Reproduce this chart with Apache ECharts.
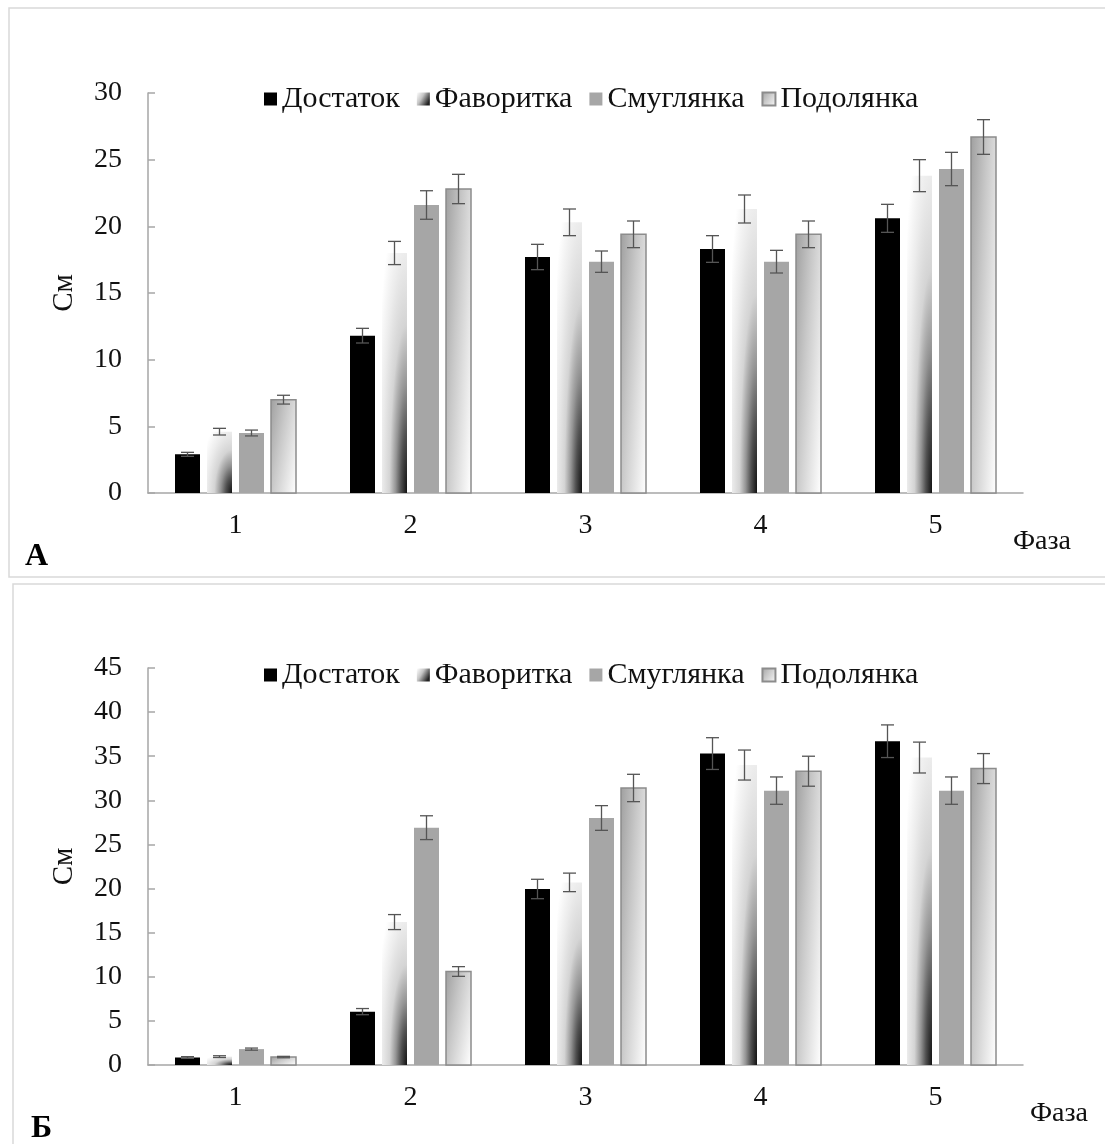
<!DOCTYPE html>
<html>
<head>
<meta charset="utf-8">
<script src="https://cdn.jsdelivr.net/npm/echarts@6/dist/echarts.min.js"></script>
<style>
  html, body { margin: 0; padding: 0; background: #ffffff; }
  #chart { width: 1105px; height: 1144px; }
</style>
</head>
<body>
<div id="chart"></div>
<script>
// Phases of development (x categories) and varieties (series)
const phases = ['1', '2', '3', '4', '5'];
const varieties = ['Достаток', 'Фаворитка', 'Смуглянка', 'Подолянка'];

// Panel А: mean values, cm
const dostatokA  = [2.9, 11.8, 17.7, 18.3, 20.6];
const favoritkaA = [4.6, 18.0, 20.3, 21.3, 23.8];
const smuglyankaA = [4.5, 21.6, 17.35, 17.35, 24.3];
const podolyankaA = [7.0, 22.8, 19.4, 19.4, 26.7];
// Panel А: error half-widths
const dostatokErrA  = [0.15, 0.55, 0.95, 1.0, 1.05];
const favoritkaErrA = [0.25, 0.87, 1.0, 1.05, 1.2];
const smuglyankaErrA = [0.22, 1.07, 0.8, 0.85, 1.25];
const podolyankaErrA = [0.33, 1.1, 1.0, 1.0, 1.3];

// Panel Б: mean values, cm
const dostatokB  = [0.85, 6.05, 19.95, 35.3, 36.7];
const favoritkaB = [0.95, 16.2, 20.7, 34.0, 34.85];
const smuglyankaB = [1.8, 26.9, 28.0, 31.1, 31.1];
const podolyankaB = [0.9, 10.6, 31.4, 33.3, 33.6];
// Panel Б: error half-widths
const dostatokErrB  = [0.1, 0.35, 1.1, 1.8, 1.85];
const favoritkaErrB = [0.1, 0.85, 1.05, 1.7, 1.75];
const smuglyankaErrB = [0.12, 1.35, 1.4, 1.55, 1.55];
const podolyankaErrB = [0.08, 0.55, 1.55, 1.7, 1.7];

// Axis ranges
const yMaxA = 30;
const yMaxB = 45;
const yStep = 5;

const FONT = '"Liberation Serif", "Times New Roman", serif';
const TEXT = '#111111';
const AXIS = '#a6a6a6';
const ERR = '#555555';

// Фаворитка: elliptical shading from the bottom-right corner of each bar
const favoritkaFill = {
  type: 'radial', x: 1, y: 1, r: 1.3,
  colorStops: [
    { offset: 0, color: '#111111' },
    { offset: 0.19, color: '#505050' },
    { offset: 0.35, color: '#959595' },
    { offset: 0.54, color: '#d4d4d4' },
    { offset: 0.77, color: '#ececec' },
    { offset: 1, color: '#ffffff' }
  ]
};
// Подолянка: grey upper-left fading to white lower-right
const podolyankaStops = [
  { offset: 0, color: '#a0a0a0' },
  { offset: 0.4, color: '#c8c8c8' },
  { offset: 1, color: '#ffffff' }
];
const PODO_WX = 0.6;
const PODO_WY = 0.4;
const PODO_EDGE = '#8c8c8c';

// Linear gradient in pixel space whose parameter equals wx*dx/w + wy*dy/h
function boxGradient(x, y, w, h, wx, wy, stops) {
  const nx = wx / Math.max(w, 0.5);
  const ny = wy / Math.max(h, 0.5);
  const n2 = nx * nx + ny * ny;
  return {
    type: 'linear', global: true,
    x: x, y: y, x2: x + nx / n2, y2: y + ny / n2,
    colorStops: stops
  };
}

function barElement(k, x, y, w, h) {
  if (k === 0) {
    return { type: 'rect', shape: { x: x, y: y, width: w, height: h }, style: { fill: '#000000' } };
  }
  if (k === 1) {
    // unit box stretched to the bar, so the radial ramp follows the bar's proportions
    return {
      type: 'rect',
      x: x, y: y,
      scaleX: w / 100, scaleY: Math.max(h, 0.01) / 100,
      shape: { x: 0, y: 0, width: 100, height: 100 },
      style: { fill: favoritkaFill }
    };
  }
  if (k === 2) {
    return { type: 'rect', shape: { x: x, y: y, width: w, height: h }, style: { fill: '#a6a6a6' } };
  }
  return {
    type: 'rect',
    shape: { x: x, y: y, width: w, height: h },
    style: {
      fill: boxGradient(x, y, w, h, PODO_WX, PODO_WY, podolyankaStops),
      stroke: PODO_EDGE, lineWidth: 1.5
    }
  };
}

function makeRenderer(k) {
  return function (params, api) {
    const cat = api.value(0);
    const val = api.value(1);
    const err = api.value(2);
    const base = api.coord([cat, 0]);
    const top = api.coord([cat, val]);
    const band = api.size([1, 0])[0];
    const bw = band / 7;
    const pitch = band * 32 / 175;
    const cx = base[0] + (k - 1.5) * pitch;
    const x = cx - bw / 2;
    const y = top[1];
    const h = base[1] - top[1];
    const hi = api.coord([cat, val + err])[1];
    const lo = api.coord([cat, val - err])[1];
    const cap = 6.5;
    const lineStyle = { stroke: ERR, lineWidth: 1.3 };
    return {
      type: 'group',
      children: [
        barElement(k, x, y, bw, h),
        { type: 'line', shape: { x1: cx, y1: hi, x2: cx, y2: lo }, style: lineStyle },
        { type: 'line', shape: { x1: cx - cap, y1: hi, x2: cx + cap, y2: hi }, style: lineStyle },
        { type: 'line', shape: { x1: cx - cap, y1: lo, x2: cx + cap, y2: lo }, style: lineStyle }
      ]
    };
  };
}

// Legend swatch styles
const swatches = [
  { color: '#000000' },
  {
    color: {
      type: 'linear', x: 0, y: 0, x2: 1, y2: 0.6,
      colorStops: [
        { offset: 0, color: '#ffffff' },
        { offset: 0.45, color: '#c4c4c4' },
        { offset: 1, color: '#222222' }
      ]
    }
  },
  { color: '#a6a6a6' },
  {
    color: { type: 'linear', x: 0, y: 0, x2: PODO_WX * 2, y2: PODO_WY * 2, colorStops: podolyankaStops },
    borderColor: PODO_EDGE, borderWidth: 1
  }
];

function buildSeries(panel, valueSets, errorSets) {
  return valueSets.map(function (vals, k) {
    return {
      type: 'custom',
      name: varieties[k],
      xAxisIndex: panel,
      yAxisIndex: panel,
      encode: { x: 0, y: 1 },
      itemStyle: swatches[k],
      renderItem: makeRenderer(k),
      data: phases.map(function (p, i) { return [i, vals[i], errorSets[k][i]]; })
    };
  });
}

function xAxisFor(panel, nameGap) {
  return {
    type: 'category',
    gridIndex: panel,
    data: phases,
    axisLine: { lineStyle: { color: AXIS, width: 1.5 } },
    axisTick: { show: false },
    axisLabel: { fontFamily: FONT, fontSize: 28, color: TEXT, margin: 19 },
    name: 'Фаза',
    nameLocation: 'end',
    nameGap: nameGap,
    nameTextStyle: {
      fontFamily: FONT, fontSize: 28, color: TEXT,
      align: 'left', verticalAlign: 'top', padding: [35, 0, 0, 0]
    }
  };
}

function yAxisFor(panel, max) {
  return {
    type: 'value',
    gridIndex: panel,
    min: 0,
    max: max,
    interval: yStep,
    axisLine: { show: true, lineStyle: { color: AXIS, width: 1.5 } },
    axisTick: { show: true, inside: true, length: 7, lineStyle: { color: AXIS, width: 1.5 } },
    splitLine: { show: false },
    axisLabel: { fontFamily: FONT, fontSize: 28, color: TEXT, margin: 26 },
    name: 'См',
    nameLocation: 'middle',
    nameRotate: 90,
    nameGap: 69,
    nameTextStyle: { fontFamily: FONT, fontSize: 29, color: TEXT }
  };
}

function legendAt(top) {
  return {
    left: 259,
    top: top,
    data: varieties,
    icon: 'rect',
    itemWidth: 13,
    itemHeight: 13,
    itemGap: 17,
    selectedMode: false,
    textStyle: { fontFamily: FONT, fontSize: 30, color: TEXT, lineHeight: 30 }
  };
}

const chart = echarts.init(document.getElementById('chart'), null, { renderer: 'canvas' });

chart.setOption({
  animation: false,
  backgroundColor: '#ffffff',
  legend: [legendAt(79), legendAt(655)],
  grid: [
    { left: 148, right: 82, top: 93, bottom: 651, outerBoundsMode: 'none' },
    { left: 148, right: 82, top: 668, bottom: 79, outerBoundsMode: 'none' }
  ],
  xAxis: [xAxisFor(0, -10), xAxisFor(1, 7)],
  yAxis: [yAxisFor(0, yMaxA), yAxisFor(1, yMaxB)],
  graphic: [
    {
      type: 'rect', z: -10, silent: true,
      shape: { x: 9, y: 8, width: 1110, height: 569 },
      style: { fill: 'none', stroke: '#d9d9d9', lineWidth: 1.5 }
    },
    {
      type: 'rect', z: -10, silent: true,
      shape: { x: 13, y: 584, width: 1110, height: 600 },
      style: { fill: 'none', stroke: '#d9d9d9', lineWidth: 1.5 }
    },
    {
      type: 'text', left: 25, top: 541,
      style: { text: 'А', font: 'bold 32px ' + FONT, fill: '#000000' }
    },
    {
      type: 'text', left: 31, top: 1113,
      style: { text: 'Б', font: 'bold 32px ' + FONT, fill: '#000000' }
    }
  ],
  series: [].concat(
    buildSeries(0,
      [dostatokA, favoritkaA, smuglyankaA, podolyankaA],
      [dostatokErrA, favoritkaErrA, smuglyankaErrA, podolyankaErrA]),
    buildSeries(1,
      [dostatokB, favoritkaB, smuglyankaB, podolyankaB],
      [dostatokErrB, favoritkaErrB, smuglyankaErrB, podolyankaErrB])
  )
});
</script>
</body>
</html>
